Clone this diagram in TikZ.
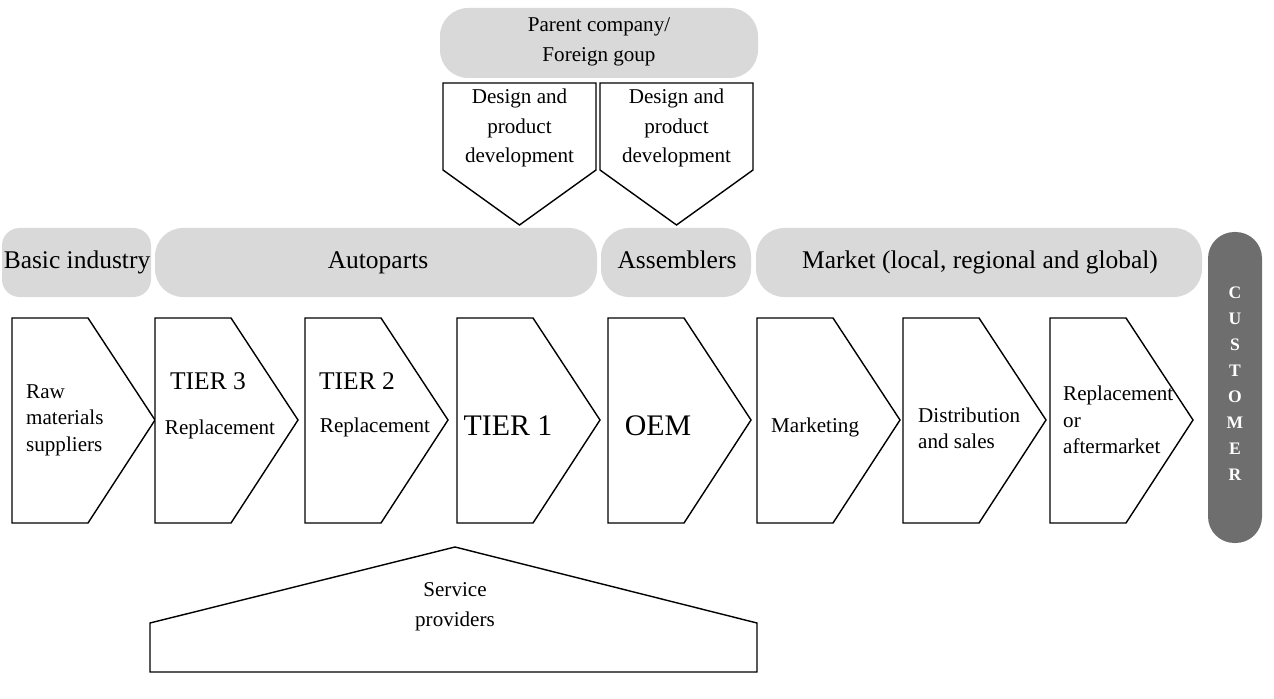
\documentclass[tikz,border=0pt]{standalone}
\usepackage{fontspec}
\setmainfont{Liberation Serif}
\usetikzlibrary{positioning}
\definecolor{pillgray}{HTML}{D9D9D9}
\definecolor{custgray}{HTML}{6E6E6E}
\tikzset{
  pill/.style={fill=pillgray, rounded corners=16pt},
  stage/.style={draw, thick, fill=white},
  big/.style={font=\fontsize{14.5}{17}\selectfont, anchor=base},
  mid/.style={font=\fontsize{12}{15}\selectfont, align=left},
  small/.style={font=\fontsize{12}{17}\selectfont, align=center}
}
\begin{document}
\begin{tikzpicture}[x=0.02cm,y=-0.02cm]
\useasboundingbox (0,0) rectangle (1274,699);

% Parent company
\fill[pill] (440,8) rectangle (758,78);
\node[small] (parent) at (599,42) {Parent company/\\Foreign goup};

% Design pentagons
\foreach \x/\n in {443/designA, 600/designB} {
  \draw[stage] (\x,83) -- (\x+153,83) -- (\x+153,170) -- (\x+76.5,225) -- (\x,170) -- cycle;
  \node[small] (\n) at (\x+76.5,128) {Design and\\product\\development};
}

% Top bands
\fill[pill, rounded corners=10pt] (2,228) rectangle (151,297);
\node[big] (basic) at (77,268) {Basic industry};
\fill[pill] (155,228) rectangle (597,297);
\node[big] (autoparts) at (378,268) {Autoparts};
\fill[pill] (601,228) rectangle (751,297);
\node[big] (assemblers) at (677,268) {Assemblers};
\fill[pill] (756,228) rectangle (1202,297);
\node[big] (market) at (980,268) {Market (local, regional and global)};

% Chevrons
\foreach \x in {12,155,305,457,608,757,903,1050} {
  \draw[stage] (\x,318) -- (\x+76,318) -- (\x+143,420) -- (\x+76,523) -- (\x,523) -- cycle;
}
\node[mid, anchor=west] (raw) at (20,420) {Raw\\materials\\suppliers};
\node[big] (tier3) at (208,389) {TIER 3};
\node[mid] (rep3) at (220,429) {Replacement};
\node[big] (tier2) at (357,389) {TIER 2};
\node[mid] (rep2) at (375,427) {Replacement};
\node[big, font=\fontsize{17}{19}\selectfont] (tier1) at (508,435) {TIER 1};
\node[big, font=\fontsize{17}{19}\selectfont] (oem) at (658,435) {OEM};
\node[mid, anchor=west] (marketing) at (765,427) {Marketing};
\node[mid, anchor=west] (distrib) at (912,428) {Distribution\\and sales};
\node[mid, anchor=west] (replace) at (1057,420) {Replacement\\or\\aftermarket};

% Customer
\fill[custgray, rounded corners=15pt] (1208,232) rectangle (1262,543);
\foreach \l [count=\i] in {C,U,S,T,O,M,E,R}
  \node[white, font=\fontsize{10}{10}\selectfont\bfseries] at (1235,293+\i*26-26) {\l};

% Service providers
\draw[stage] (150,672) -- (150,623) -- (455,547) -- (757,623) -- (757,672) -- cycle;
\node[small] (service) at (455,607) {Service\\providers};
\end{tikzpicture}
\end{document}
